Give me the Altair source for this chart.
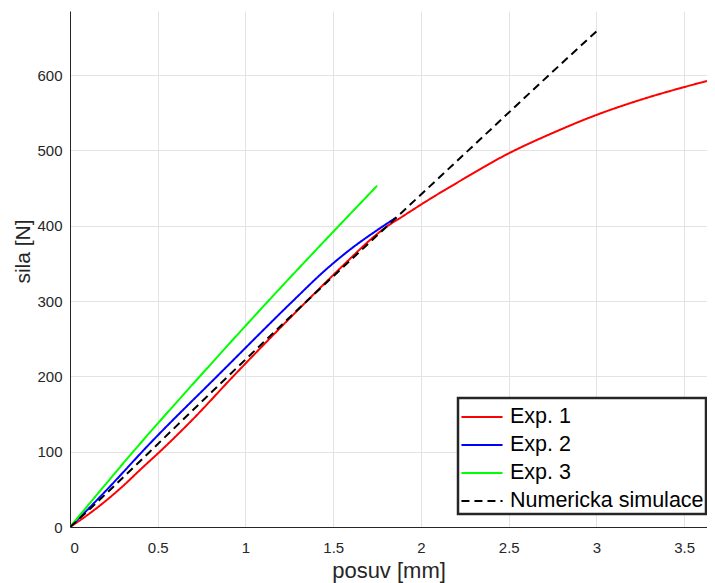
import altair as alt
import pandas as pd

series_names = ["Exp. 1", "Exp. 2", "Exp. 3", "Numericka simulace"]

exp1_x = [0, 0.1, 0.2, 0.3, 0.4, 0.53, 0.7, 0.93, 1.15, 1.35, 1.6, 1.7, 1.8, 1.9, 2.0, 2.22, 2.5, 2.75, 3.0, 3.25, 3.5, 3.63]
exp1_y = [0, 16, 34, 54, 76, 104, 143, 200, 253, 300, 357, 379, 398, 413, 428, 459, 496, 523, 547, 567, 584, 592]

exp2_x = [0, 0.1, 0.2, 0.456, 0.855, 1.27, 1.45, 1.6, 1.75, 1.86]
exp2_y = [0, 23, 47, 111, 204, 300, 340, 369, 394, 411]

exp3_x = [0, 0.1, 0.36, 0.74, 1.13, 1.75]
exp3_y = [0, 28, 100, 200, 300, 453]

sim_x = [0, 0.1, 0.2, 0.455, 0.9, 1.35, 1.81, 2.27, 2.73, 3.0]
sim_y = [0, 21, 43, 100, 200, 300, 400, 500, 600, 658]

x_ticks = [0, 0.5, 1, 1.5, 2, 2.5, 3, 3.5]
y_ticks = [0, 100, 200, 300, 400, 500, 600]

rows = []
for name, xs, ys in zip(series_names, [exp1_x, exp2_x, exp3_x, sim_x], [exp1_y, exp2_y, exp3_y, sim_y]):
    for i, (x, y) in enumerate(zip(xs, ys)):
        rows.append({"series": name, "posuv": x, "sila": y, "order": i})
df = pd.DataFrame(rows)

font = "Liberation Sans"
leg = dict(orient="none", legendX=388, legendY=387)

chart = alt.Chart(df).mark_line(strokeWidth=2, clip=True, interpolate="monotone").encode(
    x=alt.X("posuv:Q", scale=alt.Scale(domain=[0, 3.63], nice=False),
            axis=alt.Axis(title="posuv [mm]", values=x_ticks, format="~f",
                          labelPadding=13, titlePadding=5, titleFontSize=22)),
    y=alt.Y("sila:Q", scale=alt.Scale(domain=[0, 685], nice=False),
            axis=alt.Axis(title="sila [N]", values=y_ticks, format="d",
                          labelPadding=8, titlePadding=3, titleFontSize=21, titleY=240)),
    color=alt.Color("series:N",
                    scale=alt.Scale(domain=series_names, range=["#ff0000", "#0000ff", "#00ff00", "#000000"]),
                    title=None, legend=alt.Legend(**leg)),
    strokeDash=alt.StrokeDash("series:N",
                              scale=alt.Scale(domain=series_names, range=[[1, 0], [1, 0], [1, 0], [8, 5]]),
                              title=None, legend=alt.Legend(**leg)),
    order="order:Q",
).properties(
    width=637, height=516,
    autosize=alt.AutoSizeParams(type="none"),
    padding={"left": 62, "top": 3, "right": 0, "bottom": 56},
).configure_view(stroke=None).configure_axis(
    labelFont=font, titleFont=font, labelFontSize=15,
    labelColor="#262626", titleColor="#262626", titleFontWeight="normal",
    domainColor="#262626", ticks=False,
    gridColor="#e3e3e3",
).configure_legend(
    labelFont=font, labelFontSize=21.5, labelColor="#000000",
    symbolType="M-1.3,0H1.3", symbolSize=1000, symbolStrokeWidth=2, symbolOffset=5,
    strokeColor="#262626", strokeWidth=2.5, fillColor="#ffffff",
    padding=2, rowPadding=0, labelOffset=11, labelLimit=400,
)

chart.save("out.html", embed_options={"renderer": "svg", "actions": False})
